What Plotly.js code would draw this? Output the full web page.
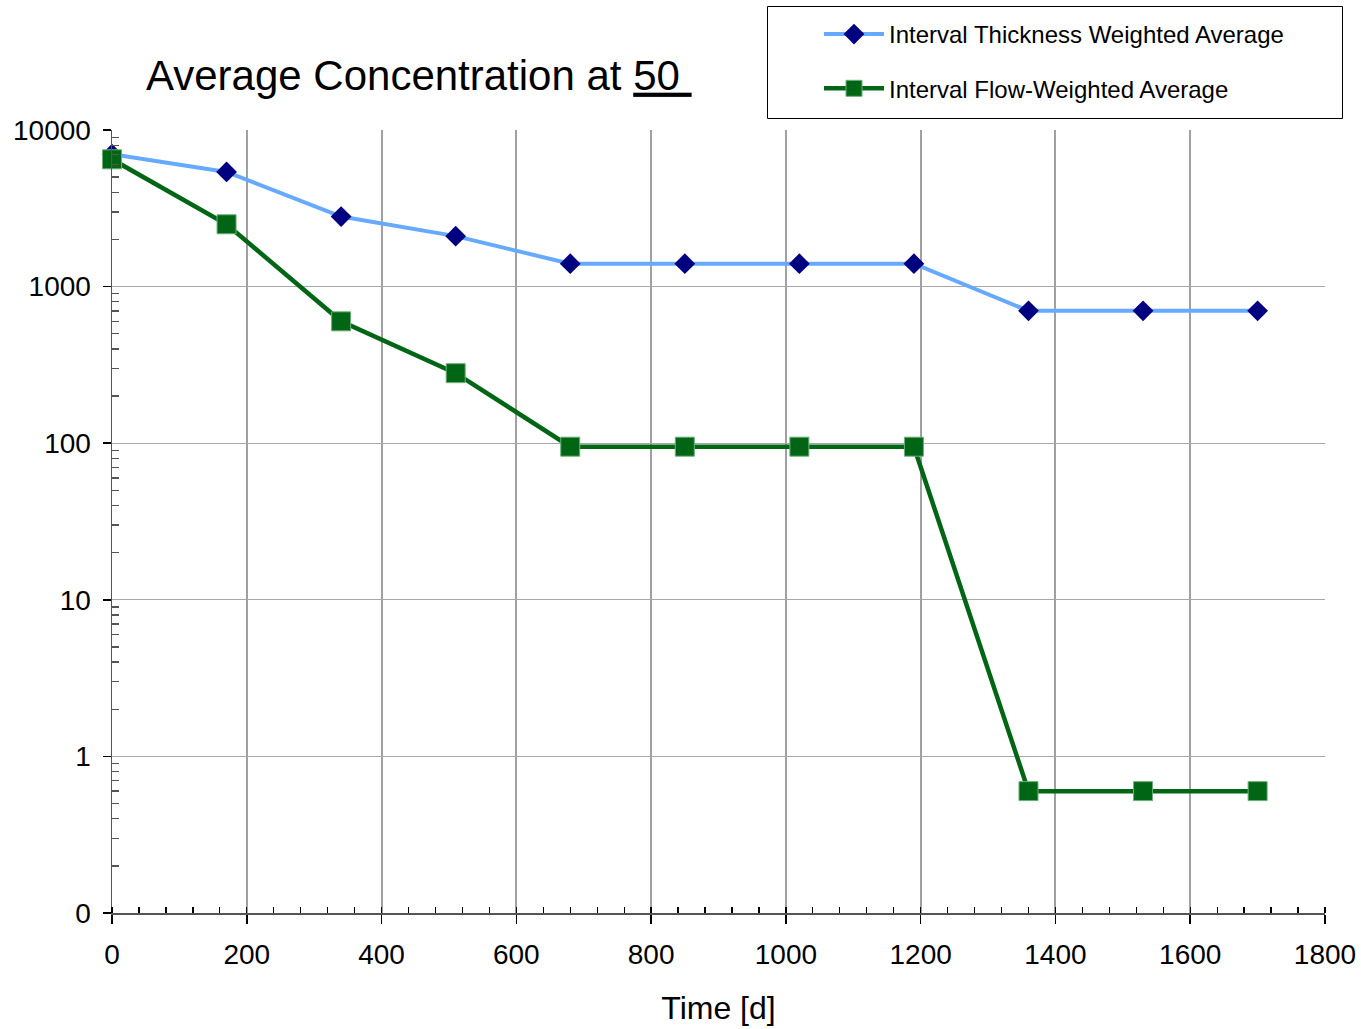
<!DOCTYPE html>
<html>
<head>
<meta charset="utf-8">
<script src="https://cdn.plot.ly/plotly-3.0.1.min.js"></script>
<style>
html,body{margin:0;padding:0;background:#fff;}
#chart{width:1361px;height:1029px;}
</style>
</head>
<body>
<div id="chart"></div>
<script>
// Data
const timeDays = [0, 170, 340, 510, 680, 850, 1020, 1190, 1360, 1530, 1700];
const thicknessWeighted = [7000, 5400, 2800, 2100, 1400, 1400, 1400, 1400, 700, 700, 700];
const flowWeighted = [6500, 2500, 600, 280, 95, 95, 95, 95, 0.6, 0.6, 0.6];
const seriesNames = ['Interval Thickness Weighted Average', 'Interval Flow-Weighted Average'];
const yTickVals = [0.1, 1, 10, 100, 1000, 10000];
const yTickText = ['0', '1', '10', '100', '1000', '10000'];
const xTickVals = [0, 200, 400, 600, 800, 1000, 1200, 1400, 1600, 1800];

const W = 1361, H = 1029;
const L = 112, R = 1325, T = 130, B = 913;
const px = v => (v - L) / (R - L);
const py = v => (B - v) / (B - T);

const yMinor = [];
for (let e = -1; e < 4; e++) for (let k = 2; k <= 9; k++) yMinor.push(k * Math.pow(10, e));

const font = 'Liberation Sans, Arial, sans-serif';

const traces = [
  {
    x: timeDays, y: thicknessWeighted, name: seriesNames[0], type: 'scatter', mode: 'lines+markers',
    line: {color: '#66aaff', width: 4},
    marker: {symbol: 'diamond', size: 16, color: '#000080'},
    legendgroup: 'a', cliponaxis: false
  },
  {
    x: timeDays, y: flowWeighted, name: seriesNames[1], type: 'scatter', mode: 'lines+markers',
    line: {color: '#006616', width: 4.5},
    marker: {symbol: 'square', size: 19, color: '#006616', line: {color: '#6fae78', width: 1}},
    legendgroup: 'b', cliponaxis: false
  }
];

const layout = {
  width: W, height: H,
  margin: {l: L, r: W - R, t: T, b: H - B, pad: 0, autoexpand: false},
  paper_bgcolor: '#ffffff', plot_bgcolor: '#ffffff',
  font: {family: font, color: '#000'},
  title: {
    text: 'Average Concentration at <u>50&nbsp;</u>',
    font: {size: 42, family: font, color: '#000'},
    xref: 'container', x: 146 / W, xanchor: 'left',
    yref: 'container', y: 1 - 75 / H, yanchor: 'middle'
  },
  showlegend: true,
  legend: {
    x: px(819), y: py(12), xanchor: 'left', yanchor: 'top',
    borderwidth: 0, bgcolor: 'rgba(0,0,0,0)',
    font: {size: 24, family: font, color: '#000'},
    itemwidth: 60, traceorder: 'grouped', tracegroupgap: 20
  },
  shapes: [
    {type: 'rect', xref: 'paper', yref: 'paper', x0: px(767.5), x1: px(1342.5), y0: py(118.5), y1: py(6.5),
     line: {color: '#000', width: 1}, fillcolor: 'rgba(0,0,0,0)', layer: 'below'}
  ],
  xaxis: {
    range: [0, 1800], tickvals: xTickVals, ticktext: xTickVals.map(String),
    ticks: 'outside', ticklen: 9, tickwidth: 1.5, tickcolor: '#000',
    showline: true, linecolor: '#555', linewidth: 1.5,
    showgrid: true, gridcolor: '#a0a0a0', gridwidth: 2,
    zeroline: false,
    tickfont: {size: 28, family: font, color: '#000'},
    ticklabelstandoff: 7,
    minor: {dtick: 40, tick0: 0, ticks: 'inside', ticklen: 6, tickwidth: 1.3, tickcolor: '#000', showgrid: false},
    title: {text: 'Time [d]', font: {size: 32, family: font, color: '#000'}, standoff: 27}
  },
  xaxis2: {
    overlaying: 'x', anchor: 'y', side: 'bottom', range: [0, 1800],
    tickvals: xTickVals, showticklabels: false,
    ticks: 'inside', ticklen: 6, tickwidth: 1.5, tickcolor: '#000',
    showline: false, showgrid: false, zeroline: false
  },
  yaxis: {
    type: 'log', range: [-1, 4], tickvals: yTickVals, ticktext: yTickText,
    ticks: 'outside', ticklen: 8, tickwidth: 1.5, tickcolor: '#000',
    showline: true, linecolor: '#555', linewidth: 1.5,
    showgrid: true, gridcolor: '#a8a8a8', gridwidth: 1,
    zeroline: false,
    tickfont: {size: 28, family: font, color: '#000'},
    ticklabelstandoff: 6,
    minor: {tickmode: 'array', tickvals: yMinor, ticks: 'inside', ticklen: 7, tickwidth: 1.3, tickcolor: '#555', showgrid: false}
  },
  yaxis2: {
    overlaying: 'y', anchor: 'x', side: 'left', type: 'log', range: [-1, 4],
    tickvals: yTickVals, showticklabels: false,
    ticks: 'inside', ticklen: 7, tickwidth: 1.5, tickcolor: '#000',
    showline: false, showgrid: false, zeroline: false
  }
};

Plotly.newPlot('chart', traces, layout, {staticPlot: true, displayModeBar: false});
</script>
</body>
</html>
